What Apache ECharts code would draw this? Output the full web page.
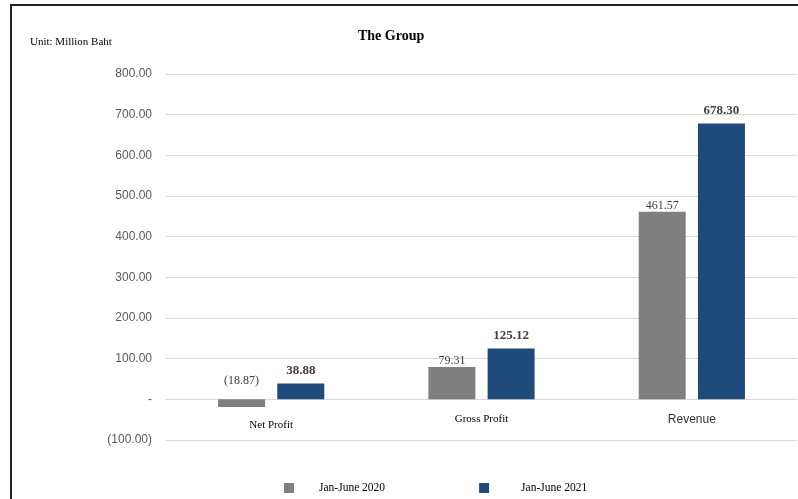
<!DOCTYPE html>
<html>
<head>
<meta charset="utf-8">
<script src="https://cdn.jsdelivr.net/npm/echarts@6/dist/echarts.min.js"></script>
<style>
html,body{margin:0;padding:0;background:#fff;}
#chart{width:798px;height:499px;}
</style>
</head>
<body>
<div id="chart"></div>
<script>
const categories = ['Net Profit', 'Gross Profit', 'Revenue'];
const seriesNames = ['Jan-June 2020', 'Jan-June 2021'];
const values2020 = [-18.87, 79.31, 461.57];
const values2021 = [38.88, 125.12, 678.30];
const yTicks = { min: -100, max: 800, interval: 100 };

function fmtNum(v) {
  if (v === 0) return '-';
  const s = Math.abs(v).toFixed(2).replace(/\B(?=(\d{3})+(?!\d))/g, ',');
  return v < 0 ? '(' + s + ')' : s;
}

const chart = echarts.init(document.getElementById('chart'));
const serif = '"Liberation Serif", "Times New Roman", serif';
const sans = '"Liberation Sans", Arial, sans-serif';

const data2020 = values2020.map(v => v < 0 ? {
  value: v,
  label: { position: 'top', offset: [0, -12] }
} : v);

chart.setOption({
  backgroundColor: '#fff',
  animation: false,
  title: {
    text: 'The Group',
    left: 353, top: 24,
    textStyle: { fontFamily: serif, fontSize: 14, fontWeight: 'bold', color: '#000' }
  },
  graphic: [
    { type: 'polyline', shape: { points: [[11, 499], [11, 5], [798, 5]] },
      style: { stroke: '#222', lineWidth: 2, fill: null } },
    { type: 'text', left: 30, top: 37,
      style: { text: 'Unit: Million Baht', font: '11px ' + serif, fill: '#000' } }
  ],
  legend: {
    left: 279, top: 477,
    itemWidth: 10, itemHeight: 10, itemGap: 94,
    icon: 'rect',
    textStyle: { fontFamily: serif, fontSize: 11.5, color: '#000', padding: [0, 0, 0, 20] },
    data: [
      { name: seriesNames[0] },
      { name: seriesNames[1], textStyle: { padding: [0, 0, 0, 27] } }
    ]
  },
  grid: { left: 166, right: 1, top: 74, bottom: 59, containLabel: false },
  xAxis: {
    type: 'category',
    data: categories,
    axisLine: { onZero: true, lineStyle: { color: '#d9d9d9' } },
    axisTick: { show: false },
    axisLabel: {
      margin: -26,
      formatter: function (v) {
        if (v === 'Revenue') return '{s|' + v + '}';
        if (v === 'Net Profit') return '{n|' + v + '}';
        return '{g|' + v + '}';
      },
      rich: {
        s: { fontFamily: sans, fontSize: 12, color: '#333' },
        g: { fontFamily: serif, fontSize: 11, color: '#000' },
        n: { fontFamily: serif, fontSize: 11, color: '#000', padding: [6, 0, 0, 0] }
      }
    }
  },
  yAxis: {
    type: 'value',
    min: yTicks.min, max: yTicks.max, interval: yTicks.interval,
    axisLine: { show: false },
    axisTick: { show: false },
    splitLine: { lineStyle: { color: '#d9d9d9' } },
    axisLabel: {
      margin: 14,
      fontFamily: sans, fontSize: 12, color: '#595959',
      formatter: fmtNum
    }
  },
  series: [
    {
      name: seriesNames[0], type: 'bar',
      data: data2020,
      barWidth: 47, barGap: '26%',
      itemStyle: { color: '#7f7f7f' },
      label: {
        show: true, position: 'top', distance: 0,
        fontFamily: serif, fontSize: 12, color: '#404040',
        formatter: p => fmtNum(p.value)
      }
    },
    {
      name: seriesNames[1], type: 'bar',
      data: values2021,
      barWidth: 47,
      itemStyle: { color: '#1f4a7c' },
      label: {
        show: true, position: 'top', distance: 6,
        fontFamily: serif, fontSize: 13, fontWeight: 'bold', color: '#404040',
        formatter: p => fmtNum(p.value)
      }
    }
  ]
});
</script>
</body>
</html>
